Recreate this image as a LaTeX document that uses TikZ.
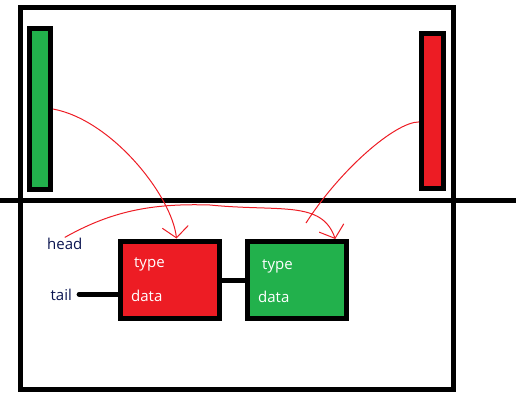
\documentclass[tikz,border=0pt]{standalone}
\usepackage{fontspec}
\setmainfont{Open Sans}
\usepackage{tikz}
\usetikzlibrary{positioning,arrows.meta}
\definecolor{paintred}{RGB}{237,28,36}
\definecolor{paintgreen}{RGB}{34,177,76}
\definecolor{inkblue}{RGB}{10,20,80}

\begin{document}
\begin{tikzpicture}[x=1pt, y=-1pt, >={Straight Barb[length=11pt,width=26pt]},
        thick line/.style={line width=5pt},
        bar/.style={draw, rectangle, line width=5pt, inner sep=0pt},
        box/.style={draw, rectangle, line width=5pt, inner sep=0pt, minimum width=99pt, minimum height=77pt},
        word/.style={inner sep=0pt, anchor=base west, font=\fontsize{15}{18}\selectfont},
        pointer/.style={draw=paintred, line width=1pt}]
            \useasboundingbox (0,0) rectangle (521,407);
            \draw[thick line] (20.5,7.5) rectangle (453.5,389.5);
            \draw[thick line] (0,200.5) -- (516,200.5);

            \draw (40,109) node [bar, fill=paintgreen, minimum width=21pt, minimum height=161pt] (bar 1) {};
            \draw (432.5,111) node [bar, fill=paintred, minimum width=22pt, minimum height=155pt] (bar 2) {};
            \draw (170,279.5) node [box, fill=paintred] (box 1) {};
            \draw (297,280) node [box, fill=paintgreen] (box 2) {};

            \draw (47,249) node [word, text=inkblue] (head) {head};
            \draw (50.5,300) node [word, text=inkblue] (tail) {tail};
            \draw (134,267) node [word, text=white] (type 1) {type};
            \draw (131,301) node [word, text=white] (data 1) {data};
            \draw (262,269) node [word, text=white] (type 2) {type};
            \draw (258,302) node [word, text=white] (data 2) {data};
            \coordinate (loose end) at (306,223);

            \draw[thick line, line cap=round] ([xshift=7pt]tail.east) -- (tail.east -| box 1.west);
            \draw[thick line] ([yshift=-1pt]box 1.east) -- ([yshift=-1pt]box 1.east -| box 2.west);
            \draw[pointer, ->] (bar 1.east) .. controls (112,120) and (172,196) .. (box 1.81);
            \draw[pointer, ->] (head.north) .. controls (110,212) and (150,203) .. (210,205)
                .. controls (280,212) and (322,200) .. (box 2.47);
            \draw[pointer] (bar 2.219) .. controls (395,122) and (340,170) .. (loose end);
        \end{tikzpicture}
\end{document}
